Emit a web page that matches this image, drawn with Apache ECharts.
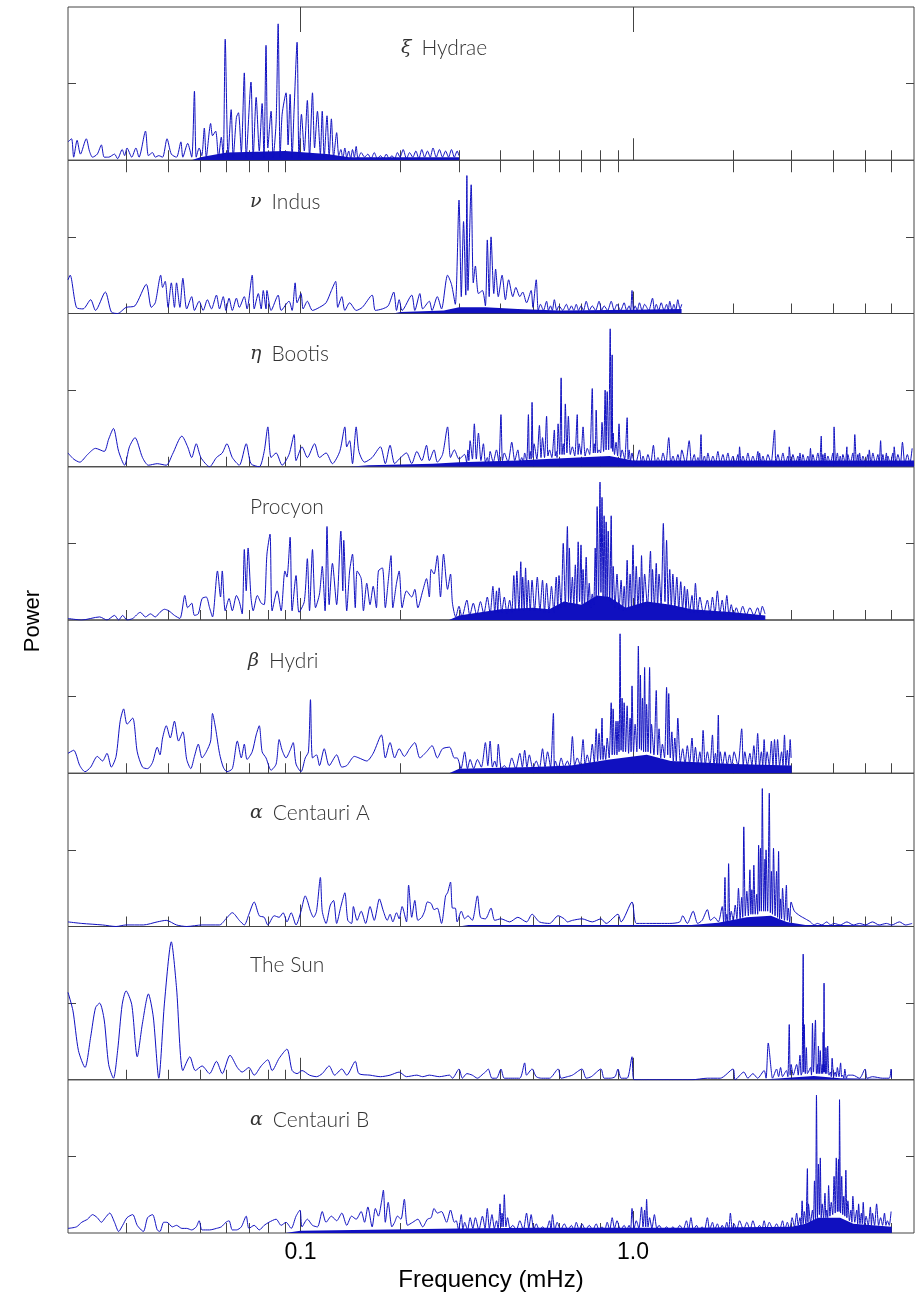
<!DOCTYPE html>
<html>
<head>
<meta charset="utf-8">
<script src="https://cdn.jsdelivr.net/npm/echarts@6.0.0/dist/echarts.min.js"></script>
<style>
html, body { margin: 0; padding: 0; background: #fff; }
#chart { width: 917px; height: 1297px; }
</style>
</head>
<body>
<div id="chart"></div>
<script>
// star names (greek letter + name), one per panel, top to bottom
const starGreek = ['ξ', 'ν', 'η', '', 'β', 'α', '', 'α'];
const starNames = ['Hydrae', 'Indus', 'Bootis', 'Procyon', 'Hydri', 'Centauri A', 'The Sun', 'Centauri B'];

// x axis ticks (mHz)
const minorTicks = [0.03, 0.04, 0.05, 0.06, 0.07, 0.08, 0.09, 0.2, 0.3, 0.4, 0.5, 0.6, 0.7, 0.8, 0.9, 2, 3, 4, 5, 6];
const majorTicks = [0.1, 1];
const tickLabels = ['0.1', '1.0'];

// power spectra: [frequency mHz, power (fraction of panel height)]
const xiHya = [
[0.0200,0.12],[0.0205,0.14],[0.0208,0.02],[0.0213,0.13],[0.0218,0.04],[0.0227,0.14],[0.0232,0.06],[0.0237,0.02],[0.0245,0.04],[0.0252,0.10],[0.0257,0.02],[0.0265,0.02],[0.0276,0.04],[0.0282,0.01],[0.0291,0.07],[0.0296,0.03],[0.0301,0.08],[0.0311,0.02],[0.0320,0.08],[0.0327,0.02],[0.0342,0.19],[0.0349,0.03],[0.0359,0.05],[0.0366,0.02],[0.0375,0.03],[0.0385,0.02],[0.0397,0.14],[0.0409,0.04],[0.0424,0.02],[0.0437,0.12],[0.0443,0.02],[0.0458,0.11],[0.0471,0.02],[0.0480,0.45],[0.0486,0.02],[0.0496,0.08],[0.0505,0.03],[0.0514,0.21],[0.0521,0.02],[0.0537,0.24],[0.0544,0.16],[0.0556,0.19],[0.0567,0.02],[0.0578,0.15],[0.0586,0.02],[0.0594,0.79],[0.0606,0.02],[0.0619,0.33],[0.0628,0.02],[0.0642,0.28],[0.0651,0.31],[0.0664,0.05],[0.0678,0.57],[0.0687,0.02],[0.0710,0.51],[0.0721,0.02],[0.0736,0.41],[0.0752,0.06],[0.0767,0.37],[0.0777,0.02],[0.0788,0.75],[0.0798,0.08],[0.0816,0.32],[0.0828,0.02],[0.0845,0.25],[0.0857,0.89],[0.0869,0.02],[0.0881,0.30],[0.0905,0.44],[0.0918,0.10],[0.0931,0.43],[0.0944,0.02],[0.0957,0.33],[0.0977,0.77],[0.0990,0.02],[0.1007,0.30],[0.1027,0.06],[0.1049,0.39],[0.1065,0.02],[0.1087,0.44],[0.1103,0.08],[0.1125,0.32],[0.1148,0.04],[0.1163,0.32],[0.1179,0.02],[0.1202,0.29],[0.1220,0.02],[0.1239,0.27],[0.1258,0.02],[0.1285,0.18],[0.1304,0.03],
[0.1323,0.07],[0.1341,0.01],[0.1360,0.08],[0.1378,0.02],[0.1397,0.06],[0.1416,0.01],[0.1434,0.07],[0.1453,0.02],[0.1471,0.09],[0.1490,0.01],[0.1523,0.05],[0.1559,0.02],[0.1595,0.04],[0.1631,0.01],[0.1667,0.05],[0.1704,0.01],[0.1740,0.03],[0.1776,0.01],[0.1812,0.04],[0.1848,0.01],[0.1884,0.03],[0.1920,0.01],[0.1957,0.05],[0.1993,0.02],[0.2037,0.07],[0.2084,0.01],[0.2130,0.05],[0.2177,0.02],[0.2224,0.06],[0.2270,0.01],[0.2317,0.07],[0.2363,0.02],[0.2410,0.06],[0.2457,0.02],[0.2504,0.08],[0.2561,0.02],[0.2618,0.07],[0.2675,0.02],[0.2732,0.06],[0.2789,0.02],[0.2846,0.07],[0.2903,0.02],[0.2960,0.06],[0.2998,0.03]
];
const nuInd = [
[0.0200,0.22],[0.0203,0.25],[0.0212,0.04],[0.0222,0.03],[0.0234,0.09],[0.0242,0.02],[0.0259,0.14],[0.0270,0.01],[0.0282,0.00],[0.0299,0.04],[0.0318,0.05],[0.0344,0.19],[0.0356,0.04],[0.0366,0.07],[0.0380,0.25],[0.0385,0.17],[0.0392,0.21],[0.0400,0.04],[0.0409,0.20],[0.0418,0.04],[0.0424,0.20],[0.0434,0.04],[0.0443,0.23],[0.0455,0.03],[0.0471,0.11],[0.0480,0.02],[0.0496,0.08],[0.0510,0.02],[0.0525,0.09],[0.0540,0.03],[0.0559,0.12],[0.0571,0.03],[0.0586,0.11],[0.0597,0.02],[0.0610,0.10],[0.0624,0.02],[0.0642,0.10],[0.0655,0.04],[0.0678,0.11],[0.0691,0.03],[0.0716,0.25],[0.0726,0.03],[0.0747,0.13],[0.0762,0.03],[0.0773,0.15],[0.0788,0.03],[0.0793,0.15],[0.0816,0.02],[0.0857,0.12],[0.0875,0.02],[0.0924,0.08],[0.0944,0.02],[0.0964,0.20],[0.0977,0.07],[0.1004,0.13],[0.1019,0.03],[0.1049,0.08],[0.1087,0.02],[0.1141,0.04],[0.1194,0.07],[0.1239,0.15],[0.1276,0.21],[0.1295,0.04],[0.1332,0.11],[0.1360,0.02],[0.1406,0.07],[0.1471,0.02],[0.1535,0.04],[0.1643,0.12],[0.1680,0.02],[0.1764,0.03],[0.1836,0.05],[0.1908,0.14],[0.1945,0.02],[0.1981,0.09],[0.2022,0.02],[0.2161,0.12],[0.2208,0.02],[0.2286,0.13],[0.2332,0.03],[0.2441,0.08],[0.2488,0.02],[0.2580,0.11],[0.2656,0.03],[0.2770,0.25],[0.2846,0.19],[0.2922,0.06],[0.2998,0.74],[0.3046,0.11],[0.3094,0.60],[0.3142,0.12],[0.3166,0.90],[0.3190,0.15],[0.3262,0.84],[0.3310,0.20],[0.3358,0.31],[0.3430,0.13],[0.3526,0.15],[0.3599,0.05],[0.3647,0.48],[0.3695,0.11],[0.3743,0.50],[0.3815,0.13],[0.3863,0.29],[0.3935,0.11],[0.4040,0.25],[0.4134,0.09],[0.4227,0.22],[0.4351,0.11],[0.4444,0.17],[0.4568,0.11],[0.4661,0.14],[0.4786,0.07],[0.4941,0.15],[0.5000,0.04],
[0.5118,0.22],[0.5190,0.02],[0.5270,0.06],[0.5380,0.02],[0.5498,0.08],[0.5570,0.02],[0.5650,0.05],[0.5720,0.02],[0.5802,0.09],[0.5900,0.02],[0.5992,0.05],[0.6150,0.02],[0.6305,0.06],[0.6420,0.02],[0.6529,0.05],[0.6640,0.02],[0.6753,0.06],[0.6860,0.02],[0.6978,0.05],[0.7100,0.02],[0.7233,0.08],[0.7390,0.02],[0.7544,0.05],[0.7720,0.02],[0.7907,0.08],[0.8050,0.02],[0.8188,0.05],[0.8390,0.02],[0.8600,0.08],[0.8780,0.02],[0.8953,0.06],[0.9180,0.02],[0.9408,0.07],[0.9570,0.02],[0.9737,0.05],[0.9840,0.02],[0.9934,0.15],[1.004,0.02],[1.015,0.05],[1.030,0.02],[1.046,0.07],[1.065,0.02],[1.084,0.06],[1.115,0.02],[1.145,0.10],[1.160,0.02],[1.175,0.06],[1.195,0.02],[1.216,0.07],[1.240,0.02],[1.262,0.06],[1.276,0.02],[1.290,0.08],[1.310,0.02],[1.327,0.06],[1.345,0.02],[1.364,0.09],[1.385,0.03],[1.402,0.06]
];
const etaBoo = [
[0.0200,0.09],[0.0208,0.05],[0.0217,0.03],[0.0229,0.08],[0.0242,0.12],[0.0257,0.10],[0.0265,0.18],[0.0274,0.25],[0.0284,0.10],[0.0296,0.01],[0.0306,0.13],[0.0318,0.19],[0.0335,0.06],[0.0349,0.01],[0.0371,0.02],[0.0395,0.01],[0.0412,0.08],[0.0440,0.20],[0.0458,0.13],[0.0471,0.06],[0.0486,0.15],[0.0502,0.06],[0.0533,0.00],[0.0559,0.06],[0.0582,0.09],[0.0601,0.15],[0.0624,0.06],[0.0655,0.01],[0.0687,0.15],[0.0710,0.02],[0.0752,0.00],[0.0778,0.10],[0.0798,0.26],[0.0816,0.06],[0.0845,0.09],[0.0881,0.01],[0.0924,0.08],[0.0957,0.21],[0.0970,0.04],[0.1011,0.13],[0.1049,0.06],[0.1103,0.15],[0.1141,0.06],[0.1194,0.09],[0.1248,0.02],[0.1313,0.10],[0.1360,0.26],[0.1378,0.13],[0.1406,0.17],[0.1434,0.02],[0.1471,0.26],[0.1499,0.10],[0.1559,0.03],[0.1643,0.06],[0.1740,0.13],[0.1800,0.02],[0.1860,0.14],[0.1920,0.02],[0.1981,0.05],[0.2084,0.09],[0.2161,0.02],[0.2239,0.10],[0.2317,0.04],[0.2394,0.14],[0.2441,0.04],[0.2523,0.11],[0.2580,0.03],[0.2675,0.08],[0.2770,0.26],[0.2827,0.06],[0.2903,0.11],[0.2998,0.05],
[0.3118,0.08],[0.3160,0.03],[0.3190,0.11],[0.3210,0.04],[0.3238,0.17],[0.3290,0.05],[0.3334,0.28],[0.3380,0.05],[0.3430,0.22],[0.3490,0.04],[0.3550,0.15],[0.3600,0.03],[0.3647,0.06],[0.3680,0.02],[0.3719,0.10],[0.3800,0.03],[0.3887,0.11],[0.3950,0.03],[0.4009,0.34],[0.4050,0.04],[0.4103,0.09],[0.4210,0.03],[0.4320,0.16],[0.4410,0.04],[0.4506,0.11],[0.4570,0.03],[0.4630,0.06],[0.4680,0.03],[0.4724,0.09],[0.4790,0.04],[0.4848,0.34],[0.4880,0.05],[0.4910,0.10],[0.4940,0.05],[0.4972,0.42],[0.5010,0.06],[0.5042,0.15],[0.5140,0.05],[0.5232,0.27],[0.5290,0.06],[0.5346,0.19],[0.5420,0.06],[0.5498,0.33],[0.5550,0.07],[0.5612,0.11],[0.5700,0.06],[0.5802,0.24],[0.5840,0.07],[0.5878,0.10],[0.5910,0.06],[0.5954,0.28],[0.6020,0.08],[0.6081,0.58],[0.6120,0.08],[0.6170,0.15],[0.6210,0.08],[0.6260,0.41],[0.6330,0.09],[0.6394,0.33],[0.6480,0.08],[0.6574,0.13],[0.6680,0.07],[0.6798,0.34],[0.6840,0.08],[0.6888,0.15],[0.6980,0.08],[0.7078,0.26],[0.7180,0.07],[0.7285,0.12],[0.7410,0.08],[0.7544,0.51],[0.7600,0.09],[0.7648,0.15],[0.7700,0.09],[0.7751,0.37],[0.7830,0.09],[0.7907,0.11],[0.7990,0.09],[0.8071,0.29],[0.8160,0.10],[0.8247,0.50],[0.8300,0.11],[0.8365,0.49],[0.8450,0.11],[0.8541,0.90],[0.8600,0.12],[0.8659,0.73],[0.8690,0.10],[0.8718,0.22],[0.8800,0.08],[0.8894,0.16],[0.8990,0.07],[0.9079,0.28],[0.9180,0.06],[0.9276,0.11],[0.9440,0.05],[0.9605,0.32],[0.9670,0.05],[0.9737,0.11],[0.9830,0.04],[0.9934,0.09],
[1.000,0.06],[1.018,0.02],[1.046,0.11],[1.060,0.02],[1.072,0.07],[1.090,0.02],[1.109,0.08],[1.130,0.02],[1.152,0.14],[1.170,0.02],[1.189,0.06],[1.210,0.02],[1.231,0.09],[1.255,0.02],[1.281,0.19],[1.300,0.02],[1.319,0.07],[1.342,0.02],[1.365,0.08],[1.385,0.02],[1.402,0.11],[1.440,0.02],[1.476,0.17],[1.500,0.02],[1.529,0.08],[1.548,0.02],[1.568,0.06],[1.585,0.02],[1.602,0.21],[1.615,0.02],[1.640,0.07],[1.660,0.02],[1.680,0.09],[1.710,0.02],[1.739,0.07],[1.770,0.02],[1.800,0.10],[1.830,0.02],[1.864,0.08],[1.895,0.02],[1.930,0.09],[1.960,0.02],[1.998,0.07],[2.030,0.02],[2.068,0.08],[2.080,0.02],[2.092,0.13],[2.115,0.02],[2.141,0.07],[2.180,0.02],[2.216,0.09],[2.255,0.02],[2.294,0.07],[2.335,0.02],[2.375,0.10],[2.390,0.02],[2.402,0.09],[2.430,0.02],[2.459,0.07],[2.500,0.02],[2.545,0.08],[2.600,0.02],[2.665,0.24],[2.690,0.02],[2.728,0.08],[2.775,0.02],[2.824,0.09],[2.870,0.02],[2.923,0.07],[2.940,0.02],[2.951,0.13],[2.990,0.02],[3.026,0.08],[3.080,0.02],[3.133,0.07],[3.160,0.02],[3.178,0.09],[3.210,0.02],[3.243,0.08],[3.300,0.02],[3.357,0.07],[3.390,0.02],[3.418,0.12],[3.445,0.02],[3.475,0.08],[3.535,0.02],[3.598,0.09],[3.640,0.02],[3.683,0.20],[3.700,0.02],[3.725,0.08],[3.750,0.02],[3.779,0.09],[3.815,0.02],[3.856,0.07],[3.920,0.02],[3.992,0.09],[4.010,0.02],[4.025,0.26],[4.070,0.02],[4.118,0.09],[4.160,0.02],[4.200,0.07],[4.240,0.02],[4.278,0.08],[4.350,0.02],[4.398,0.13],[4.410,0.02],[4.428,0.08],[4.500,0.02],[4.584,0.09],[4.610,0.02],[4.646,0.21],[4.700,0.02],[4.746,0.08],[4.775,0.02],[4.801,0.09],[4.860,0.02],[4.913,0.07],[5.000,0.02],[5.086,0.08],[5.110,0.02],[5.137,0.11],[5.200,0.02],[5.265,0.09],[5.360,0.02],[5.451,0.08],[5.500,0.02],[5.555,0.17],[5.600,0.02],[5.643,0.08],[5.710,0.02],[5.783,0.09],[5.810,0.02],[5.841,0.07],[5.940,0.02],[6.047,0.09],[6.075,0.02],[6.103,0.13],[6.180,0.02],[6.260,0.08],[6.370,0.02],[6.462,0.16],[6.570,0.02],[6.686,0.08],[6.800,0.02],[6.910,0.12]
];
const procyon = [
[0.0200,0.01],[0.0220,0.00],[0.0249,0.02],[0.0262,0.00],[0.0276,0.03],[0.0284,0.00],[0.0292,0.03],[0.0301,0.00],[0.0313,0.01],[0.0330,0.05],[0.0342,0.02],[0.0354,0.04],[0.0366,0.02],[0.0378,0.05],[0.0390,0.07],[0.0402,0.06],[0.0418,0.03],[0.0434,0.01],[0.0449,0.16],[0.0458,0.08],[0.0471,0.11],[0.0480,0.03],[0.0493,0.04],[0.0506,0.14],[0.0521,0.15],[0.0533,0.08],[0.0544,0.02],[0.0563,0.32],[0.0575,0.15],[0.0582,0.32],[0.0594,0.06],[0.0610,0.14],[0.0624,0.06],[0.0642,0.16],[0.0655,0.12],[0.0668,0.04],[0.0678,0.46],[0.0687,0.19],[0.0696,0.47],[0.0710,0.15],[0.0721,0.06],[0.0742,0.16],[0.0762,0.11],[0.0778,0.10],[0.0793,0.43],[0.0810,0.56],[0.0822,0.06],[0.0851,0.19],[0.0875,0.06],[0.0898,0.32],[0.0911,0.28],[0.0931,0.54],[0.0944,0.06],[0.0970,0.29],[0.0990,0.05],[0.1027,0.12],[0.1049,0.40],[0.1065,0.06],[0.1087,0.46],[0.1110,0.08],[0.1141,0.17],[0.1163,0.35],[0.1186,0.06],[0.1202,0.61],[0.1220,0.10],[0.1248,0.37],[0.1285,0.10],[0.1323,0.58],[0.1341,0.19],[0.1350,0.52],[0.1378,0.06],[0.1406,0.32],[0.1434,0.43],[0.1462,0.08],[0.1481,0.32],[0.1523,0.27],[0.1547,0.06],[0.1583,0.24],[0.1619,0.10],[0.1655,0.22],[0.1692,0.08],[0.1716,0.32],[0.1764,0.34],[0.1800,0.08],[0.1836,0.25],[0.1872,0.42],[0.1896,0.08],[0.1945,0.24],[0.1981,0.32],[0.2022,0.08],[0.2084,0.19],[0.2161,0.15],[0.2208,0.20],[0.2255,0.08],[0.2332,0.19],[0.2394,0.27],[0.2441,0.15],[0.2472,0.33],[0.2523,0.30],[0.2580,0.42],[0.2637,0.15],[0.2694,0.43],[0.2770,0.20],[0.2827,0.30],
[0.2865,0.11],[0.2930,0.02],[0.2998,0.09],[0.3060,0.02],[0.3166,0.13],[0.3230,0.03],[0.3310,0.11],[0.3390,0.03],[0.3478,0.12],[0.3560,0.04],[0.3647,0.15],[0.3720,0.04],[0.3791,0.22],[0.3840,0.05],[0.3887,0.19],[0.3920,0.05],[0.3959,0.21],[0.4030,0.05],[0.4103,0.15],[0.4180,0.04],[0.4258,0.13],[0.4320,0.05],[0.4382,0.29],[0.4430,0.06],[0.4475,0.32],[0.4540,0.06],[0.4599,0.38],[0.4630,0.07],[0.4661,0.28],[0.4710,0.06],[0.4754,0.34],[0.4800,0.07],[0.4848,0.26],[0.4910,0.06],[0.4972,0.26],[0.5060,0.06],[0.5156,0.28],[0.5250,0.06],[0.5346,0.26],[0.5420,0.05],[0.5498,0.24],[0.5590,0.05],[0.5688,0.22],[0.5780,0.05],[0.5878,0.28],[0.5940,0.07],[0.5992,0.29],[0.6080,0.08],[0.6170,0.50],[0.6260,0.09],[0.6350,0.61],[0.6400,0.12],[0.6439,0.47],[0.6500,0.10],[0.6574,0.28],[0.6640,0.09],[0.6709,0.36],[0.6780,0.10],[0.6843,0.51],[0.6910,0.12],[0.6978,0.49],[0.7030,0.10],[0.7078,0.33],[0.7150,0.10],[0.7233,0.41],[0.7310,0.10],[0.7388,0.24],[0.7460,0.08],[0.7544,0.17],[0.7620,0.10],[0.7699,0.47],[0.7750,0.14],[0.7803,0.74],[0.7880,0.16],[0.7959,0.90],[0.8010,0.18],[0.8071,0.80],[0.8130,0.15],[0.8188,0.68],[0.8250,0.15],[0.8306,0.64],[0.8360,0.14],[0.8424,0.58],[0.8510,0.12],[0.8600,0.68],[0.8660,0.10],[0.8718,0.35],[0.8830,0.08],[0.8953,0.30],[0.9080,0.07],[0.9211,0.26],[0.9310,0.06],[0.9408,0.22],[0.9500,0.06],[0.9605,0.39],[0.9700,0.07],[0.9803,0.30],[0.9900,0.07],[1.000,0.49],[1.012,0.08],[1.023,0.35],[1.035,0.08],[1.046,0.28],[1.053,0.09],[1.061,0.42],[1.072,0.09],[1.084,0.30],[1.105,0.09],[1.129,0.45],[1.137,0.10],[1.145,0.33],[1.160,0.09],[1.175,0.37],[1.186,0.09],[1.198,0.30],[1.215,0.10],[1.234,0.63],[1.248,0.12],[1.262,0.52],[1.276,0.10],[1.290,0.33],[1.304,0.08],[1.318,0.30],[1.336,0.08],[1.355,0.28],[1.373,0.07],[1.392,0.25],[1.410,0.07],[1.429,0.22],[1.443,0.06],[1.457,0.20],[1.480,0.05],[1.505,0.16],[1.523,0.05],[1.541,0.24],[1.565,0.05],[1.589,0.15],[1.630,0.04],[1.674,0.13],[1.704,0.04],[1.734,0.15],[1.764,0.04],[1.794,0.19],[1.825,0.04],[1.855,0.13],[1.885,0.03],[1.915,0.16],[1.945,0.03],[1.975,0.10],[2.010,0.03],[2.045,0.08],[2.090,0.03],[2.138,0.09],[2.190,0.03],[2.247,0.08],[2.310,0.03],[2.371,0.08],[2.410,0.03],[2.449,0.09],[2.495,0.04]
];
const betaHyi = [
[0.0200,0.13],[0.0208,0.15],[0.0217,0.05],[0.0225,0.01],[0.0234,0.04],[0.0245,0.11],[0.0254,0.08],[0.0262,0.13],[0.0270,0.04],[0.0279,0.11],[0.0287,0.34],[0.0294,0.42],[0.0301,0.32],[0.0313,0.36],[0.0323,0.14],[0.0335,0.04],[0.0347,0.03],[0.0359,0.07],[0.0371,0.17],[0.0378,0.12],[0.0385,0.23],[0.0395,0.31],[0.0406,0.23],[0.0418,0.34],[0.0430,0.21],[0.0443,0.27],[0.0455,0.09],[0.0468,0.03],[0.0480,0.11],[0.0493,0.19],[0.0506,0.10],[0.0521,0.14],[0.0537,0.21],[0.0544,0.39],[0.0556,0.29],[0.0571,0.13],[0.0586,0.04],[0.0601,0.01],[0.0624,0.03],[0.0646,0.21],[0.0664,0.10],[0.0678,0.19],[0.0691,0.09],[0.0716,0.14],[0.0736,0.25],[0.0752,0.31],[0.0767,0.14],[0.0788,0.10],[0.0816,0.02],[0.0845,0.06],[0.0863,0.22],[0.0881,0.15],[0.0905,0.10],[0.0931,0.15],[0.0951,0.20],[0.0970,0.06],[0.1004,0.01],[0.1034,0.10],[0.1057,0.14],[0.1072,0.48],[0.1087,0.10],[0.1118,0.12],[0.1141,0.05],[0.1179,0.16],[0.1220,0.05],[0.1285,0.12],[0.1332,0.04],[0.1378,0.05],[0.1453,0.11],[0.1499,0.10],[0.1583,0.08],[0.1655,0.13],[0.1752,0.25],[0.1800,0.10],[0.1860,0.20],[0.1920,0.10],[0.1981,0.16],[0.2053,0.11],[0.2130,0.16],[0.2208,0.20],[0.2286,0.10],[0.2394,0.14],[0.2488,0.18],[0.2580,0.10],[0.2675,0.16],[0.2808,0.17],[0.2903,0.10],
[0.2960,0.10],[0.3040,0.03],[0.3118,0.14],[0.3180,0.03],[0.3238,0.09],[0.3320,0.03],[0.3406,0.09],[0.3500,0.04],[0.3599,0.20],[0.3660,0.05],[0.3719,0.21],[0.3780,0.04],[0.3839,0.08],[0.3890,0.04],[0.3935,0.19],[0.4020,0.03],[0.4103,0.05],[0.4210,0.02],[0.4320,0.10],[0.4440,0.03],[0.4568,0.13],[0.4650,0.04],[0.4724,0.15],[0.4800,0.04],[0.4879,0.12],[0.5000,0.03],[0.5118,0.08],[0.5230,0.03],[0.5346,0.16],[0.5440,0.04],[0.5536,0.14],[0.5650,0.04],[0.5764,0.39],[0.5800,0.04],[0.5840,0.08],[0.5960,0.03],[0.6081,0.10],[0.6210,0.04],[0.6350,0.08],[0.6460,0.04],[0.6574,0.24],[0.6680,0.05],[0.6798,0.10],[0.6940,0.05],[0.7078,0.22],[0.7180,0.05],[0.7285,0.12],[0.7410,0.06],[0.7544,0.19],[0.7650,0.07],[0.7751,0.29],[0.7830,0.08],[0.7907,0.26],[0.7990,0.09],[0.8071,0.36],[0.8130,0.09],[0.8188,0.18],[0.8280,0.09],[0.8365,0.23],[0.8480,0.10],[0.8600,0.46],[0.8660,0.12],[0.8718,0.42],[0.8800,0.12],[0.8894,0.34],[0.8950,0.12],[0.9013,0.34],[0.9080,0.14],[0.9145,0.91],[0.9210,0.15],[0.9276,0.49],[0.9340,0.14],[0.9408,0.46],[0.9500,0.14],[0.9605,0.44],[0.9700,0.13],[0.9803,0.36],[0.9870,0.14],[0.9934,0.57],[1.004,0.14],[1.015,0.32],[1.027,0.14],[1.038,0.83],[1.046,0.16],[1.053,0.64],[1.060,0.15],[1.068,0.49],[1.076,0.14],[1.084,0.69],[1.092,0.14],[1.099,0.45],[1.110,0.14],[1.122,0.69],[1.130,0.13],[1.137,0.32],[1.156,0.12],[1.175,0.54],[1.186,0.12],[1.198,0.29],[1.212,0.10],[1.226,0.19],[1.244,0.10],[1.262,0.56],[1.272,0.12],[1.281,0.52],[1.295,0.10],[1.309,0.27],[1.322,0.08],[1.336,0.23],[1.350,0.08],[1.364,0.36],[1.388,0.07],[1.411,0.16],[1.434,0.06],[1.457,0.18],[1.480,0.06],[1.505,0.23],[1.523,0.06],[1.541,0.17],[1.565,0.05],[1.589,0.14],[1.607,0.05],[1.625,0.28],[1.650,0.05],[1.674,0.14],[1.704,0.05],[1.734,0.25],[1.752,0.05],[1.770,0.13],[1.788,0.05],[1.806,0.38],[1.818,0.05],[1.830,0.14],[1.860,0.05],[1.891,0.14],[1.921,0.05],[1.951,0.12],[1.982,0.05],[2.014,0.14],[2.068,0.05],[2.123,0.29],[2.146,0.05],[2.169,0.14],[2.208,0.05],[2.247,0.13],[2.278,0.05],[2.309,0.18],[2.340,0.05],[2.371,0.26],[2.402,0.05],[2.433,0.14],[2.456,0.05],[2.480,0.22],[2.506,0.05],[2.532,0.14],[2.570,0.05],[2.608,0.21],[2.636,0.05],[2.665,0.22],[2.694,0.05],[2.722,0.22],[2.760,0.05],[2.798,0.14],[2.826,0.05],[2.855,0.25],[2.884,0.05],[2.912,0.15],[2.941,0.05],[2.970,0.22],[2.989,0.10]
];
const alfCenA = [
[0.0200,0.03],[0.0220,0.02],[0.0254,0.01],[0.0279,0.00],[0.0299,0.01],[0.0337,0.01],[0.0371,0.03],[0.0395,0.04],[0.0424,0.01],[0.0455,0.00],[0.0506,0.01],[0.0571,0.01],[0.0597,0.05],[0.0624,0.09],[0.0655,0.04],[0.0678,0.01],[0.0700,0.08],[0.0726,0.16],[0.0752,0.07],[0.0778,0.06],[0.0798,0.01],[0.0834,0.07],[0.0863,0.06],[0.0887,0.09],[0.0911,0.03],[0.0938,0.09],[0.0970,0.01],[0.1004,0.10],[0.1034,0.20],[0.1049,0.17],[0.1072,0.10],[0.1095,0.06],[0.1118,0.10],[0.1148,0.32],[0.1163,0.10],[0.1194,0.02],[0.1230,0.14],[0.1258,0.17],[0.1285,0.02],[0.1323,0.13],[0.1360,0.22],[0.1388,0.04],[0.1425,0.02],[0.1443,0.13],[0.1481,0.04],[0.1523,0.10],[0.1571,0.02],[0.1619,0.13],[0.1667,0.04],[0.1728,0.18],[0.1776,0.10],[0.1824,0.04],[0.1860,0.08],[0.1896,0.03],[0.1945,0.09],[0.1981,0.05],[0.2022,0.13],[0.2084,0.03],[0.2115,0.27],[0.2161,0.06],[0.2208,0.17],[0.2255,0.04],[0.2317,0.06],[0.2363,0.10],[0.2410,0.16],[0.2472,0.15],[0.2523,0.11],[0.2580,0.12],[0.2656,0.02],[0.2732,0.20],[0.2770,0.22],[0.2827,0.29],[0.2865,0.12],[0.2922,0.12],[0.2960,0.03],[0.3046,0.10],[0.3118,0.05],[0.3190,0.07],[0.3286,0.04],[0.3406,0.20],[0.3478,0.06],[0.3599,0.05],[0.3743,0.12],[0.3839,0.04],[0.4009,0.05],[0.4258,0.03],[0.4506,0.06],[0.4786,0.03],[0.4972,0.08],[0.5232,0.03],[0.5612,0.02],[0.5954,0.07],[0.6215,0.05],[0.6350,0.03],[0.6574,0.04],[0.7026,0.05],[0.7544,0.03],[0.8012,0.05],[0.8306,0.02],[0.9013,0.08],[0.9211,0.03],[0.9934,0.16],[1.023,0.02],[1.099,0.02],[1.198,0.02],[1.290,0.02],[1.383,0.03],[1.411,0.07],[1.457,0.02],[1.517,0.10],[1.565,0.02],[1.614,0.04],[1.674,0.11],[1.710,0.04],[1.758,0.06],[1.806,0.03],
[1.855,0.13],[1.873,0.03],[1.891,0.32],[1.903,0.03],[1.915,0.08],[1.927,0.03],[1.939,0.41],[1.957,0.04],[1.975,0.10],[2.002,0.04],[2.030,0.14],[2.053,0.05],[2.076,0.25],[2.100,0.05],[2.123,0.19],[2.138,0.06],[2.154,0.65],[2.177,0.07],[2.200,0.23],[2.223,0.07],[2.247,0.37],[2.262,0.08],[2.278,0.24],[2.293,0.08],[2.309,0.40],[2.332,0.08],[2.356,0.21],[2.371,0.08],[2.387,0.53],[2.402,0.10],[2.418,0.51],[2.433,0.10],[2.449,0.90],[2.472,0.10],[2.495,0.44],[2.504,0.10],[2.513,0.50],[2.541,0.10],[2.570,0.87],[2.589,0.09],[2.608,0.36],[2.627,0.08],[2.646,0.51],[2.675,0.07],[2.703,0.36],[2.722,0.06],[2.741,0.49],[2.760,0.05],[2.779,0.18],[2.798,0.05],[2.817,0.25],[2.855,0.04],[2.893,0.27],[2.912,0.04],[2.931,0.12],[2.960,0.03],[2.989,0.16],[3.058,0.10],[3.178,0.07],[3.298,0.05],[3.418,0.03],[3.500,0.01],[3.587,0.02],[3.700,0.01],[3.827,0.03],[3.930,0.01],[4.025,0.02],[4.200,0.01],[4.398,0.03],[4.600,0.01],[4.801,0.02],[5.000,0.01],[5.251,0.03],[5.500,0.01],[5.783,0.02],[6.000,0.01],[6.327,0.03],[6.600,0.01],[6.910,0.02]
];
const sun = [
[0.0200,0.57],[0.0207,0.45],[0.0215,0.19],[0.0225,0.08],[0.0234,0.28],[0.0242,0.47],[0.0249,0.50],[0.0257,0.39],[0.0265,0.10],[0.0274,0.01],[0.0282,0.19],[0.0291,0.49],[0.0299,0.58],[0.0311,0.49],[0.0323,0.15],[0.0335,0.37],[0.0349,0.56],[0.0361,0.41],[0.0375,0.01],[0.0390,0.50],[0.0409,0.90],[0.0424,0.60],[0.0443,0.06],[0.0465,0.15],[0.0483,0.06],[0.0506,0.09],[0.0533,0.04],[0.0559,0.12],[0.0582,0.04],[0.0614,0.16],[0.0646,0.08],[0.0668,0.05],[0.0700,0.08],[0.0726,0.03],[0.0762,0.09],[0.0798,0.13],[0.0822,0.06],[0.0863,0.14],[0.0911,0.20],[0.0944,0.06],[0.0977,0.04],[0.1011,0.06],[0.1065,0.03],[0.1118,0.02],[0.1163,0.04],[0.1220,0.09],[0.1267,0.03],[0.1332,0.07],[0.1378,0.03],[0.1462,0.12],[0.1499,0.04],[0.1619,0.03],[0.1740,0.02],[0.1860,0.03],[0.1981,0.05],[0.2084,0.02],[0.2239,0.03],[0.2332,0.02],[0.2441,0.03],[0.2618,0.02],[0.2808,0.03],[0.2865,0.01],[0.2998,0.07],[0.3070,0.01],[0.3166,0.04],[0.3286,0.03],[0.3406,0.01],[0.3550,0.04],[0.3599,0.05],[0.3671,0.07],[0.3767,0.01],[0.3887,0.01],[0.4009,0.07],[0.4103,0.01],[0.4351,0.01],[0.4568,0.01],[0.4724,0.11],[0.4786,0.03],[0.4972,0.07],[0.5118,0.02],[0.5308,0.01],[0.5612,0.01],[0.5954,0.07],[0.6081,0.01],[0.6350,0.02],[0.6574,0.03],[0.7026,0.07],[0.7233,0.01],[0.7492,0.02],[0.8012,0.07],[0.8188,0.01],[0.8541,0.01],[0.8835,0.02],[0.9013,0.07],[0.9211,0.01],[0.9605,0.01],[0.9934,0.15],[1.008,0.00],[1.099,0.00],[1.198,0.00],[1.318,0.00],[1.505,0.00],[1.674,0.01],[1.830,0.01],[2.000,0.07],[2.030,0.00],[2.154,0.05],[2.216,0.01],[2.294,0.04],[2.371,0.01],[2.480,0.06],[2.513,0.01],[2.551,0.24],[2.608,0.05],[2.627,0.01],[2.703,0.07],[2.741,0.02],[2.779,0.08],[2.817,0.02],[2.893,0.06],[2.922,0.02],[2.951,0.36],[2.970,0.03],[2.989,0.10],[3.034,0.03],[3.106,0.10],[3.140,0.03],[3.178,0.16],[3.205,0.03],[3.226,0.05],[3.250,0.82],[3.262,0.05],[3.274,0.36],[3.298,0.04],[3.322,0.21],[3.346,0.04],[3.370,0.05],[3.418,0.08],[3.442,0.03],[3.466,0.37],[3.490,0.05],[3.538,0.39],[3.562,0.04],[3.587,0.10],[3.600,0.04],[3.611,0.22],[3.635,0.04],[3.659,0.19],[3.683,0.04],[3.707,0.10],[3.720,0.04],[3.731,0.31],[3.743,0.05],[3.755,0.63],[3.767,0.05],[3.779,0.10],[3.790,0.04],[3.803,0.21],[3.827,0.04],[3.851,0.22],[3.887,0.03],[3.923,0.05],[3.947,0.02],[3.971,0.14],[4.013,0.02],[4.056,0.05],[4.087,0.02],[4.118,0.08],[4.165,0.02],[4.211,0.11],[4.243,0.02],[4.274,0.03],[4.305,0.01],[4.336,0.07],[4.383,0.01],[4.429,0.03],[4.584,0.03],[4.801,0.01],[4.988,0.07],[5.061,0.01],[5.251,0.02],[5.631,0.01],[5.897,0.01],[5.973,0.07],[5.990,0.01]
];
const alfCenB = [
[0.0200,0.03],[0.0212,0.04],[0.0220,0.07],[0.0229,0.09],[0.0237,0.12],[0.0245,0.10],[0.0252,0.07],[0.0259,0.10],[0.0267,0.13],[0.0276,0.07],[0.0284,0.01],[0.0292,0.05],[0.0301,0.10],[0.0313,0.12],[0.0323,0.05],[0.0337,0.01],[0.0347,0.10],[0.0359,0.12],[0.0371,0.02],[0.0378,0.01],[0.0388,0.07],[0.0397,0.07],[0.0412,0.04],[0.0424,0.05],[0.0440,0.03],[0.0455,0.03],[0.0471,0.02],[0.0486,0.04],[0.0496,0.08],[0.0506,0.02],[0.0533,0.02],[0.0559,0.03],[0.0578,0.04],[0.0597,0.07],[0.0610,0.08],[0.0624,0.02],[0.0642,0.02],[0.0664,0.04],[0.0687,0.11],[0.0700,0.03],[0.0726,0.05],[0.0752,0.02],[0.0778,0.05],[0.0804,0.07],[0.0845,0.09],[0.0875,0.05],[0.0905,0.07],[0.0938,0.03],[0.0970,0.11],[0.0997,0.15],[0.1011,0.04],[0.1049,0.09],[0.1087,0.05],[0.1125,0.04],[0.1163,0.14],[0.1194,0.07],[0.1239,0.11],[0.1285,0.08],[0.1332,0.13],[0.1378,0.05],[0.1425,0.11],[0.1471,0.09],[0.1523,0.14],[0.1559,0.07],[0.1595,0.17],[0.1643,0.04],[0.1680,0.16],[0.1716,0.11],[0.1752,0.20],[0.1776,0.28],[0.1800,0.07],[0.1836,0.20],[0.1884,0.04],[0.1920,0.07],[0.1957,0.11],[0.2006,0.09],[0.2053,0.22],[0.2099,0.05],[0.2177,0.07],[0.2255,0.09],[0.2332,0.04],[0.2410,0.09],[0.2472,0.10],[0.2523,0.16],[0.2580,0.13],[0.2656,0.14],[0.2751,0.07],[0.2827,0.15],[0.2903,0.07],
[0.2941,0.08],[0.2990,0.02],[0.3046,0.12],[0.3080,0.02],[0.3118,0.07],[0.3180,0.02],[0.3238,0.10],[0.3300,0.03],[0.3358,0.10],[0.3440,0.02],[0.3526,0.11],[0.3590,0.03],[0.3647,0.16],[0.3700,0.03],[0.3767,0.12],[0.3830,0.03],[0.3887,0.08],[0.3930,0.03],[0.3983,0.19],[0.4010,0.04],[0.4040,0.13],[0.4070,0.04],[0.4103,0.25],[0.4150,0.04],[0.4196,0.10],[0.4270,0.03],[0.4351,0.05],[0.4460,0.02],[0.4568,0.08],[0.4680,0.02],[0.4786,0.13],[0.4860,0.03],[0.4941,0.12],[0.5030,0.02],[0.5118,0.06],[0.5230,0.02],[0.5346,0.04],[0.5480,0.02],[0.5612,0.08],[0.5670,0.02],[0.5726,0.12],[0.5820,0.02],[0.5916,0.07],[0.6060,0.02],[0.6215,0.06],[0.6370,0.02],[0.6529,0.05],[0.6640,0.02],[0.6753,0.07],[0.6890,0.02],[0.7026,0.06],[0.7200,0.02],[0.7388,0.05],[0.7570,0.02],[0.7751,0.06],[0.7910,0.02],[0.8071,0.04],[0.8220,0.02],[0.8365,0.07],[0.8510,0.02],[0.8659,0.10],[0.8800,0.03],[0.8953,0.08],[0.9180,0.02],[0.9408,0.05],[0.9570,0.02],[0.9737,0.05],[0.9840,0.02],[0.9934,0.16],[1.008,0.03],[1.023,0.08],[1.042,0.03],[1.061,0.17],[1.072,0.04],[1.084,0.15],[1.092,0.04],[1.099,0.22],[1.110,0.04],[1.122,0.10],[1.140,0.03],[1.160,0.12],[1.180,0.03],[1.198,0.05],[1.230,0.02],[1.262,0.04],[1.290,0.02],[1.318,0.04],[1.350,0.02],[1.383,0.05],[1.415,0.02],[1.448,0.08],[1.470,0.02],[1.494,0.10],[1.520,0.02],[1.553,0.05],[1.580,0.02],[1.614,0.04],[1.640,0.02],[1.674,0.10],[1.700,0.02],[1.734,0.07],[1.760,0.02],[1.794,0.06],[1.825,0.02],[1.855,0.05],[1.885,0.02],[1.915,0.07],[1.940,0.02],[1.963,0.13],[1.990,0.02],[2.014,0.06],[2.050,0.02],[2.092,0.08],[2.150,0.02],[2.200,0.07],[2.250,0.02],[2.294,0.08],[2.350,0.02],[2.402,0.05],[2.440,0.02],[2.480,0.08],[2.520,0.02],[2.570,0.07],[2.640,0.02],[2.703,0.06],[2.760,0.02],[2.817,0.08],[2.860,0.02],[2.912,0.07],[2.960,0.02],
[3.010,0.10],[3.060,0.04],[3.106,0.13],[3.140,0.05],[3.178,0.10],[3.200,0.05],[3.226,0.21],[3.250,0.06],[3.274,0.14],[3.310,0.06],[3.346,0.42],[3.358,0.07],[3.370,0.19],[3.420,0.07],[3.466,0.15],[3.490,0.08],[3.514,0.34],[3.540,0.09],[3.563,0.90],[3.587,0.10],[3.611,0.45],[3.635,0.12],[3.659,0.49],[3.683,0.10],[3.707,0.19],[3.743,0.10],[3.779,0.26],[3.803,0.10],[3.827,0.15],[3.851,0.10],[3.875,0.31],[3.911,0.11],[3.947,0.20],[3.986,0.12],[4.025,0.37],[4.056,0.13],[4.087,0.49],[4.118,0.14],[4.149,0.48],[4.165,0.14],[4.180,0.87],[4.211,0.13],[4.243,0.37],[4.274,0.12],[4.305,0.24],[4.336,0.11],[4.367,0.41],[4.398,0.10],[4.429,0.21],[4.476,0.08],[4.522,0.15],[4.553,0.07],[4.584,0.24],[4.646,0.07],[4.708,0.15],[4.739,0.06],[4.770,0.19],[4.816,0.06],[4.863,0.13],[4.894,0.06],[4.925,0.20],[4.975,0.05],[5.023,0.11],[5.100,0.05],[5.175,0.17],[5.213,0.05],[5.251,0.13],[5.327,0.05],[5.403,0.19],[5.479,0.05],[5.555,0.10],[5.631,0.05],[5.707,0.13],[5.764,0.05],[5.821,0.08],[5.897,0.05],[5.973,0.14]
];

// height of the solid (densely sampled) noise floor under each spectrum
const xiHyaFloor = [[0.047,0],[0.05,0.02],[0.06,0.05],[0.09,0.06],[0.12,0.04],[0.14,0.02],[0.3,0.02]];
const nuIndFloor = [[0.19,0],[0.2,0.01],[0.27,0.02],[0.3,0.04],[0.36,0.04],[0.45,0.03],[0.6,0.02],[1.0,0.025],[1.4,0.03]];
const etaBooFloor = [[0.14,0],[0.16,0.01],[0.25,0.02],[0.3,0.03],[0.45,0.04],[0.55,0.05],[0.85,0.07],[1.0,0.04],[2,0.04],[7,0.04]];
const procyonFloor = [[0.28,0],[0.3,0.03],[0.4,0.07],[0.5,0.08],[0.56,0.07],[0.62,0.12],[0.7,0.1],[0.78,0.16],[0.85,0.15],[0.95,0.08],[1.1,0.12],[1.3,0.1],[1.5,0.07],[2,0.05],[2.5,0.03]];
const betaHyiFloor = [[0.28,0],[0.3,0.03],[0.5,0.04],[0.65,0.05],[0.85,0.09],[1.1,0.12],[1.3,0.08],[2,0.06],[3.0,0.05]];
const alfCenAFloor = [[0.3,0],[0.32,0.01],[1.5,0.01],[1.8,0.025],[2.2,0.06],[2.6,0.07],[2.9,0.03],[3.3,0.01],[7,0.01]];
const sunFloor = [[2.5,0],[2.6,0.005],[3.0,0.015],[3.5,0.025],[4.2,0.01],[6,0.005]];
const alfCenBFloor = [[0.09,0],[0.1,0.015],[0.3,0.03],[0.5,0.035],[1.5,0.035],[3.0,0.04],[3.3,0.06],[3.6,0.1],[4.2,0.1],[4.6,0.06],[6.0,0.04]];

const spectra = [xiHya, nuInd, etaBoo, procyon, betaHyi, alfCenA, sun, alfCenB];
const floors = [xiHyaFloor, nuIndFloor, etaBooFloor, procyonFloor, betaHyiFloor, alfCenAFloor, sunFloor, alfCenBFloor];

// label placement (left x, centre y) for each panel
const labelPos = [[401, 48], [250, 202], [250, 354], [250, 507], [248, 661], [250, 813], [250, 965], [250, 1120]];

const blue = '#1010c0';
const frame = '#444';
const top0 = 7, panelH = 153.25, left = 68, plotW = 846;

const grid = [], xAxis = [], yAxis = [], series = [];

function tickAxis(gridIndex, position, values, len, extra) {
  return Object.assign({
    gridIndex: gridIndex, type: 'log', logBase: 10, min: 0.02, max: 7, position: position,
    axisLine: { show: false }, splitLine: { show: false },
    axisLabel: { show: false },
    axisTick: { show: true, inside: true, length: len, customValues: values, lineStyle: { color: frame, width: 1 } }
  }, extra || {});
}

spectra.forEach(function (data, i) {
  const top = top0 + i * panelH;
  const last = i === spectra.length - 1;
  const ga = grid.length;
  grid.push({ left: left, top: top, width: plotW, height: panelH, show: true, borderColor: frame, borderWidth: 1, backgroundColor: 'transparent', outerBoundsMode: 'none' });
  const gb = grid.length;
  grid.push({ left: left, top: top, width: plotW, height: panelH, outerBoundsMode: 'none' });

  const xa = xAxis.length;
  xAxis.push(tickAxis(ga, 'bottom', minorTicks, 10));
  xAxis.push(tickAxis(gb, 'bottom', majorTicks, 22, last ? {
    axisLabel: {
      show: true, customValues: majorTicks, margin: 8, color: '#000',
      fontFamily: 'Liberation Sans, Arial, sans-serif', fontSize: 23,
      formatter: function (v) {
        const k = majorTicks.findIndex(function (t) { return Math.abs(t - v) < 1e-6; });
        return k >= 0 ? tickLabels[k] : '';
      }
    }
  } : null));
  if (i === 0) {
    xAxis.push(tickAxis(ga, 'top', minorTicks, 12));
    xAxis.push(tickAxis(gb, 'top', majorTicks, 25));
  }

  const ya = yAxis.length;
  const yBase = {
    type: 'value', min: 0, max: 1, axisLine: { show: false }, splitLine: { show: false }, axisLabel: { show: false },
    axisTick: { show: true, inside: true, length: 8, customValues: [0.5], lineStyle: { color: frame } }
  };
  yAxis.push(Object.assign({ gridIndex: ga, position: 'left' }, yBase));
  yAxis.push(Object.assign({ gridIndex: ga, position: 'right' }, yBase));
  yAxis.push({ gridIndex: gb, type: 'value', min: 0, max: 1, show: false });

  series.push({
    type: 'line', xAxisIndex: xa, yAxisIndex: ya, data: floors[i], symbol: 'none', silent: true, z: 1,
    lineStyle: { width: 0 }, areaStyle: { color: blue, opacity: 1 }
  });
  series.push({
    type: 'line', xAxisIndex: xa, yAxisIndex: ya, data: data, symbol: 'none', silent: true, z: 2,
    smooth: 0.25, lineStyle: { color: blue, width: 1 }
  });
});

const labelGraphics = starNames.map(function (name, i) {
  const g = starGreek[i];
  return {
    type: 'text', x: labelPos[i][0], y: labelPos[i][1],
    style: {
      text: g ? '{g|' + g + '}   {n|' + name + '}' : '{n|' + name + '}',
      verticalAlign: 'middle',
      rich: {
        g: { fontFamily: 'DejaVu Serif, serif', fontStyle: 'italic', fontSize: 19, fill: '#333' },
        n: { fontFamily: 'Lato, Open Sans, sans-serif', fontWeight: 300, fontSize: 21, fill: '#333' }
      }
    }
  };
});

const chart = echarts.init(document.getElementById('chart'));
chart.setOption({
  animation: false,
  backgroundColor: '#fff',
  grid: grid,
  xAxis: xAxis,
  yAxis: yAxis,
  series: series,
  graphic: labelGraphics.concat([
    {
      type: 'text', x: 33, y: 621, rotation: Math.PI / 2,
      style: { text: 'Power', fontFamily: 'Liberation Sans, Arial, sans-serif', fontSize: 22, fill: '#000', align: 'center', verticalAlign: 'middle' }
    },
    {
      type: 'text', x: 491, y: 1280,
      style: { text: 'Frequency (mHz)', fontFamily: 'Liberation Sans, Arial, sans-serif', fontSize: 24, fill: '#000', align: 'center', verticalAlign: 'middle' }
    }
  ])
});
</script>
</body>
</html>
